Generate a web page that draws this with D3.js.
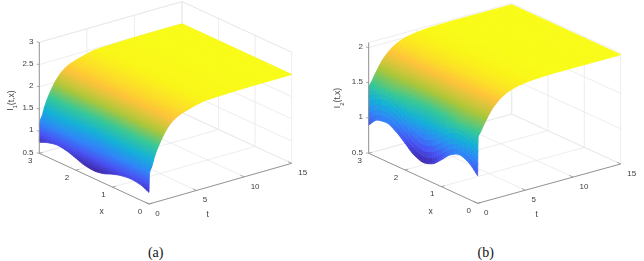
<!DOCTYPE html>
<html>
<head>
<meta charset="utf-8">
<script src="https://cdn.jsdelivr.net/npm/d3@7"></script>
<style>
  html, body { margin: 0; padding: 0; background: #fff; }
  svg { display: block; }
  text { font-family: "Liberation Sans", Arial, sans-serif; fill: #404040; }
  .caption { font-family: "Liberation Serif", serif; fill: #111; font-size: 14px; }
</style>
</head>
<body>
<div id="vis"></div>
<script>
// grid of the two surfaces
var tValues = [0, 0.05, 0.3, 0.6, 0.9, 1.2, 1.7, 2.5, 3.3, 4.3, 6, 8.5, 11, 15];
var xValues = [0, 0.25, 0.5, 0.75, 1, 1.25, 1.5, 1.75, 2, 2.25, 2.5, 2.75, 3];

// I1(t,x), one row per t value
var surfaceI1 = [
  [0.76, 0.85, 0.875, 0.85, 0.79, 0.71, 0.675, 0.70, 0.77, 0.84, 0.87, 0.83, 0.75],
  [1.19, 1.22, 1.24, 1.22, 1.17, 1.11, 1.08, 1.11, 1.17, 1.22, 1.24, 1.22, 1.19],
  [1.33, 1.38, 1.40, 1.38, 1.32, 1.27, 1.24, 1.26, 1.32, 1.37, 1.40, 1.37, 1.33],
  [1.54, 1.57, 1.59, 1.57, 1.54, 1.51, 1.49, 1.505, 1.54, 1.57, 1.59, 1.57, 1.54],
  [1.70, 1.72, 1.73, 1.72, 1.70, 1.68, 1.67, 1.68, 1.70, 1.72, 1.73, 1.72, 1.70],
  [1.83, 1.84, 1.85, 1.84, 1.83, 1.82, 1.81, 1.82, 1.83, 1.84, 1.85, 1.84, 1.83],
  [2.02, 2.03, 2.03, 2.03, 2.02, 2.01, 2.01, 2.01, 2.02, 2.03, 2.03, 2.03, 2.02],
  [2.22, 2.22, 2.22, 2.22, 2.22, 2.22, 2.22, 2.22, 2.22, 2.22, 2.22, 2.22, 2.22],
  [2.32, 2.32, 2.32, 2.32, 2.32, 2.32, 2.32, 2.32, 2.32, 2.32, 2.32, 2.32, 2.32],
  [2.39, 2.39, 2.39, 2.39, 2.39, 2.39, 2.39, 2.39, 2.39, 2.39, 2.39, 2.39, 2.39],
  [2.47, 2.47, 2.47, 2.47, 2.47, 2.47, 2.47, 2.47, 2.47, 2.47, 2.47, 2.47, 2.47],
  [2.49, 2.49, 2.49, 2.49, 2.49, 2.49, 2.49, 2.49, 2.49, 2.49, 2.49, 2.49, 2.49],
  [2.50, 2.50, 2.50, 2.50, 2.50, 2.50, 2.50, 2.50, 2.50, 2.50, 2.50, 2.50, 2.50],
  [2.50, 2.50, 2.50, 2.50, 2.50, 2.50, 2.50, 2.50, 2.50, 2.50, 2.50, 2.50, 2.50]
];

// I2(t,x), same grid
var surfaceI2 = [
  [0.89, 1.02, 1.07, 1.01, 0.88, 0.765, 0.725, 0.77, 0.88, 0.985, 1.05, 1.03, 0.90],
  [1.44, 1.50, 1.53, 1.49, 1.40, 1.30, 1.25, 1.30, 1.40, 1.49, 1.53, 1.50, 1.44],
  [1.50, 1.54, 1.56, 1.53, 1.47, 1.42, 1.39, 1.42, 1.47, 1.53, 1.56, 1.54, 1.50],
  [1.58, 1.60, 1.61, 1.60, 1.57, 1.54, 1.52, 1.54, 1.57, 1.60, 1.61, 1.60, 1.58],
  [1.65, 1.66, 1.67, 1.66, 1.64, 1.63, 1.62, 1.63, 1.64, 1.66, 1.67, 1.66, 1.65],
  [1.72, 1.72, 1.73, 1.72, 1.72, 1.71, 1.71, 1.71, 1.72, 1.72, 1.73, 1.72, 1.72],
  [1.81, 1.81, 1.81, 1.81, 1.81, 1.81, 1.81, 1.81, 1.81, 1.81, 1.81, 1.81, 1.81],
  [1.91, 1.91, 1.91, 1.91, 1.91, 1.91, 1.91, 1.91, 1.91, 1.91, 1.91, 1.91, 1.91],
  [1.97, 1.97, 1.97, 1.97, 1.97, 1.97, 1.97, 1.97, 1.97, 1.97, 1.97, 1.97, 1.97],
  [2.01, 2.01, 2.01, 2.01, 2.01, 2.01, 2.01, 2.01, 2.01, 2.01, 2.01, 2.01, 2.01],
  [2.04, 2.04, 2.04, 2.04, 2.04, 2.04, 2.04, 2.04, 2.04, 2.04, 2.04, 2.04, 2.04],
  [2.05, 2.05, 2.05, 2.05, 2.05, 2.05, 2.05, 2.05, 2.05, 2.05, 2.05, 2.05, 2.05],
  [2.05, 2.05, 2.05, 2.05, 2.05, 2.05, 2.05, 2.05, 2.05, 2.05, 2.05, 2.05, 2.05],
  [2.05, 2.05, 2.05, 2.05, 2.05, 2.05, 2.05, 2.05, 2.05, 2.05, 2.05, 2.05, 2.05]
];

var tTicks = [0, 5, 10, 15];
var xTicks = [0, 1, 2, 3];
var zTicksA = [0.5, 1, 1.5, 2, 2.5, 3];
var zTicksB = [0.5, 1, 1.5, 2];
var zDomainA = [0.5, 3];
var zDomainB = [0.5, 2.07];

// matlab parula
var parula = ['#3e26a8', '#4852f4', '#2e87f7', '#12b1d6', '#37c897', '#abc739', '#fec338', '#f9fb14'];

var width = 644;
var height = 261;
var subT = 8;
var subX = 5;

var svg = d3.select('#vis').append('svg')
  .attr('width', width)
  .attr('height', height);

svg.append('defs').append('filter')
  .attr('id', 'soft')
  .attr('x', '-5%').attr('y', '-5%').attr('width', '110%').attr('height', '110%')
  .append('feGaussianBlur')
  .attr('stdDeviation', 0.35);

// smooth shading between the grid nodes, monotone so nothing overshoots
function hermite(xs, ys, k, u) {
  function secant(n) { return (ys[n + 1] - ys[n]) / (xs[n + 1] - xs[n]); }
  function slope(n) {
    if (n === 0) return secant(0);
    if (n === xs.length - 1) return secant(n - 1);
    var a = secant(n - 1), b = secant(n);
    return a * b <= 0 ? 0 : 2 * a * b / (a + b);
  }
  var h = xs[k + 1] - xs[k];
  var u2 = u * u, u3 = u2 * u;
  return (2 * u3 - 3 * u2 + 1) * ys[k] + (u3 - 2 * u2 + u) * h * slope(k) +
    (-2 * u3 + 3 * u2) * ys[k + 1] + (u3 - u2) * h * slope(k + 1);
}

function drawPanel(cfg) {
  var g = svg.append('g').attr('filter', 'url(#soft)');

  var tPos = d3.scaleLinear().domain([0, 15]).range([0, 1]);
  var xPos = d3.scaleLinear().domain([0, 3]).range([0, 1]);
  var zPos = d3.scaleLinear().domain(cfg.zDomain).range([0, cfg.zHeight]);

  // orthographic view: three edge vectors from the front corner
  function project(t, x, z) {
    var a = tPos(t), b = xPos(x);
    return [
      cfg.origin[0] + a * (cfg.tEnd[0] - cfg.origin[0]) + b * (cfg.xEnd[0] - cfg.origin[0]),
      cfg.origin[1] + a * (cfg.tEnd[1] - cfg.origin[1]) + b * (cfg.xEnd[1] - cfg.origin[1]) - zPos(z)
    ];
  }

  var z0 = cfg.zDomain[0], z1 = cfg.zDomain[1];
  var gridLines = [];
  tTicks.forEach(function (t) {
    gridLines.push([[t, 0, z0], [t, 3, z0]]);
    gridLines.push([[t, 3, z0], [t, 3, z1]]);
  });
  xTicks.forEach(function (x) {
    gridLines.push([[0, x, z0], [15, x, z0]]);
    gridLines.push([[15, x, z0], [15, x, z1]]);
  });
  cfg.zTicks.concat([z1]).forEach(function (z) {
    gridLines.push([[0, 3, z], [15, 3, z]]);
    gridLines.push([[15, 3, z], [15, 0, z]]);
  });

  var line = d3.line();
  g.append('g').selectAll('path')
    .data(gridLines)
    .join('path')
    .attr('d', function (d) {
      return line(d.map(function (p) { return project(p[0], p[1], p[2]); }));
    })
    .attr('fill', 'none')
    .attr('stroke', '#e9e9e9')
    .attr('stroke-width', 0.8);

  // surface colour runs over the data range of z
  var zs = d3.merge(cfg.surface);
  var color = d3.scaleLinear()
    .domain(d3.range(parula.length).map(function (i) {
      return d3.min(zs) + (d3.max(zs) - d3.min(zs)) * i / (parula.length - 1);
    }))
    .range(parula)
    .clamp(true);

  // node (i, j, su, sv): t interval i step su, x interval j step sv
  function facetPoint(i, su, j, sv) {
    if (su === subT) { i += 1; su = 0; }
    if (sv === subX) { j += 1; sv = 0; }
    if (i === tValues.length - 1) { i -= 1; su = subT; }
    if (j === xValues.length - 1) { j -= 1; sv = subX; }
    var u = su / subT, v = sv / subX;
    var column = cfg.surface.map(function (row) { return hermite(xValues, row, j, v); });
    return {
      t: tValues[i] + u * (tValues[i + 1] - tValues[i]),
      x: xValues[j] + v * (xValues[j + 1] - xValues[j]),
      z: hermite(tValues, column, i, u)
    };
  }

  // far corner first so that the near facets paint over
  var facets = [];
  var i, su, j, sv;
  for (i = tValues.length - 2; i >= 0; i--) {
    for (su = subT - 1; su >= 0; su--) {
      for (j = xValues.length - 2; j >= 0; j--) {
        for (sv = subX - 1; sv >= 0; sv--) {
          facets.push([
            facetPoint(i, su, j, sv),
            facetPoint(i, su + 1, j, sv),
            facetPoint(i, su + 1, j, sv + 1),
            facetPoint(i, su, j, sv + 1)
          ]);
        }
      }
    }
  }

  function facetColor(d) { return color(d3.mean(d, function (p) { return p.z; })); }

  g.append('g').selectAll('path')
    .data(facets)
    .join('path')
    .attr('d', function (d) {
      return line(d.map(function (p) { return project(p.t, p.x, p.z); })) + 'Z';
    })
    .attr('fill', facetColor)
    .attr('stroke', facetColor)
    .attr('stroke-width', 0.8);

  // axis lines
  var axisLines = [
    [[0, 3, z0], [0, 0, z0]],
    [[0, 0, z0], [15, 0, z0]],
    [[0, 3, z0], [0, 3, z1]]
  ];
  g.append('g').selectAll('path')
    .data(axisLines)
    .join('path')
    .attr('d', function (d) {
      return line(d.map(function (p) { return project(p[0], p[1], p[2]); }));
    })
    .attr('fill', 'none')
    .attr('stroke', '#8c8c8c')
    .attr('stroke-width', 0.9);

  // ticks and their labels
  var ticks = g.append('g');
  xTicks.forEach(function (x) {
    var p = project(0, x, z0);
    ticks.append('path').attr('d', line([p, project(0.35, x, z0)]))
      .attr('stroke', '#8c8c8c').attr('stroke-width', 0.7);
    ticks.append('text')
      .attr('x', p[0] - 9).attr('y', p[1] + 7)
      .attr('dy', '0.35em').attr('text-anchor', 'middle')
      .attr('font-size', 8).text(d3.format('d')(x));
  });
  tTicks.forEach(function (t) {
    var p = project(t, 0, z0);
    ticks.append('path').attr('d', line([p, project(t, 0.1, z0)]))
      .attr('stroke', '#8c8c8c').attr('stroke-width', 0.7);
    ticks.append('text')
      .attr('x', p[0] + (t >= 10 ? 11 : 8.5)).attr('y', p[1] + 9)
      .attr('dy', '0.35em').attr('text-anchor', 'middle')
      .attr('font-size', 8).text(d3.format('d')(t));
  });
  cfg.zTicks.forEach(function (z) {
    var p = project(0, 3, z);
    ticks.append('path').attr('d', line([[p[0] - 2.6, p[1] - 0.4], p]))
      .attr('stroke', '#8c8c8c').attr('stroke-width', 0.7);
    ticks.append('text')
      .attr('x', p[0] - 5.8).attr('y', p[1] - 1.5)
      .attr('dy', '0.35em').attr('text-anchor', 'end')
      .attr('font-size', 8).text(z);
  });

  g.append('text')
    .attr('x', cfg.xLabel[0]).attr('y', cfg.xLabel[1])
    .attr('dy', '0.35em').attr('text-anchor', 'middle').attr('font-size', 8.5).text('x');
  g.append('text')
    .attr('x', cfg.tLabel[0]).attr('y', cfg.tLabel[1])
    .attr('dy', '0.35em').attr('text-anchor', 'middle').attr('font-size', 8.5).text('t');

  var zLabel = g.append('text')
    .attr('transform', 'translate(' + cfg.zLabel[0] + ',' + cfg.zLabel[1] + ') rotate(-90)')
    .attr('dy', '0.35em').attr('text-anchor', 'middle').attr('font-size', 8.5);
  zLabel.append('tspan').text('I');
  zLabel.append('tspan').attr('font-size', 6).attr('dy', '0.6em').text(cfg.sub);
  zLabel.append('tspan').attr('dy', '-0.4em').text('(t,x)');

  svg.append('text')
    .attr('class', 'caption')
    .attr('x', cfg.caption[0]).attr('y', cfg.caption[1])
    .attr('dy', '0.35em').attr('text-anchor', 'middle')
    .text(cfg.captionText);
}

drawPanel({
  surface: surfaceI1,
  zTicks: zTicksA,
  zDomain: zDomainA,
  origin: [149, 204],
  xEnd: [39.3, 153.3],
  tEnd: [291.7, 163.3],
  zHeight: 111,
  xLabel: [101.7, 211],
  tLabel: [207.7, 214],
  zLabel: [10.5, 100.7],
  sub: '1',
  caption: [155.7, 251.7],
  captionText: '(a)'
});

drawPanel({
  surface: surfaceI2,
  zTicks: zTicksB,
  zDomain: zDomainB,
  origin: [477.67, 203.3],
  xEnd: [368.67, 153.3],
  tEnd: [620.67, 164],
  zHeight: 110.7,
  xLabel: [430.7, 211],
  tLabel: [536.7, 214],
  zLabel: [337.3, 98],
  sub: '2',
  caption: [485.7, 251.7],
  captionText: '(b)'
});
</script>
</body>
</html>
